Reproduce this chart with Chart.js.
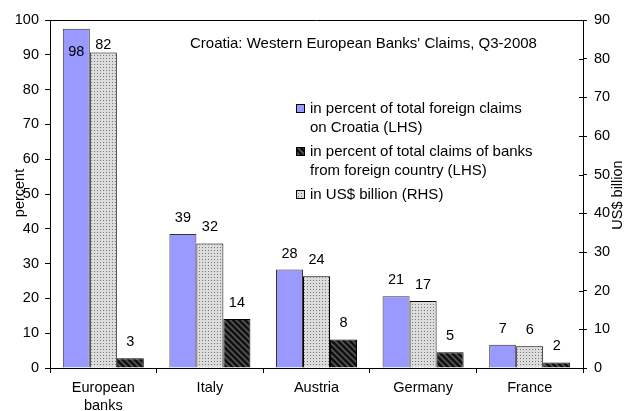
<!DOCTYPE html>
<html>
<head>
<meta charset="utf-8">
<script src="https://cdn.jsdelivr.net/npm/chart.js@4"></script>
<style>
  html, body { margin: 0; padding: 0; background: #fff; }
  #wrap { width: 628px; height: 411px; }
</style>
</head>
<body>
<div id="wrap"><canvas id="chart" width="628" height="411"></canvas></div>
<script>
// Croatia: Western European banks' claims, Q3-2008.

const categories = [['European', 'banks'], 'Italy', 'Austria', 'Germany', 'France'];
const shareOfForeignClaims = [97.5, 38.5, 28.3, 20.6, 6.7];   // percent, LHS
const shareOfBankClaims    = [2.8, 14.1, 8.2, 4.5, 1.6];      // percent, LHS
const claimsUsdBn          = [81.6, 32.2, 23.7, 17.3, 5.6];   // US$ billion, RHS

const legendLabels = [
  ['in percent of total foreign claims', 'on Croatia (LHS)'],
  ['in percent of total claims of banks', 'from foreign country (LHS)'],
  ['in US$ billion (RHS)'],
];

const FONT = '"Liberation Sans", Arial, sans-serif';
const SIZE = 14.5;
Chart.defaults.font.family = FONT;
Chart.defaults.font.size = SIZE;
Chart.defaults.color = '#000';

// fill patterns
function dotPattern() {
  const c = document.createElement('canvas');
  c.width = 3; c.height = 3;
  const g = c.getContext('2d');
  g.fillStyle = '#dcdcdc';
  g.fillRect(0, 0, 3, 3);
  g.fillStyle = '#777';
  g.fillRect(1, 1, 1, 1);
  return g.createPattern(c, 'repeat');
}
function hatchPattern() {
  const n = 6;
  const c = document.createElement('canvas');
  c.width = n; c.height = n;
  const g = c.getContext('2d');
  g.fillStyle = '#111';
  g.fillRect(0, 0, n, n);
  g.strokeStyle = '#555';
  g.lineWidth = 1.6;
  g.beginPath();
  g.moveTo(-1, -1); g.lineTo(n + 1, n + 1);
  g.moveTo(-1, n - 1); g.lineTo(1, n + 1);
  g.moveTo(n - 1, -1); g.lineTo(n + 1, 1);
  g.stroke();
  return g.createPattern(c, 'repeat');
}

const ctx = document.getElementById('chart').getContext('2d');
const dots = dotPattern();
const hatch = hatchPattern();

// label nudges for the tall first group (label offset from bar top, px)
const labelShift = { '0-0': 23, '1-0': -7 };

const barLabels = {
  id: 'barLabels',
  afterDatasetsDraw(chart) {
    const c = chart.ctx;
    c.save();
    c.font = SIZE + 'px ' + FONT;
    c.fillStyle = '#000';
    c.textAlign = 'center';
    c.textBaseline = 'middle';
    chart.data.datasets.forEach((ds, di) => {
      chart.getDatasetMeta(di).data.forEach((bar, i) => {
        const shift = labelShift[di + '-' + i];
        const y = shift !== undefined ? bar.y + shift : bar.y - 16;
        c.fillText(String(Math.round(ds.data[i])), bar.x, y);
      });
    });
    c.restore();
  }
};

// title, legend, axis titles, frame
const decorations = {
  id: 'decorations',
  afterDraw(chart) {
    const c = chart.ctx;
    const a = chart.chartArea;
    c.save();
    c.strokeStyle = '#000';
    c.lineWidth = 1;
    c.beginPath();
    c.moveTo(a.left, a.top + 0.5);
    c.lineTo(a.right, a.top + 0.5);
    c.stroke();

    // right axis ticks cross the axis line
    const y1 = chart.scales.y1;
    y1.ticks.forEach((t, i) => {
      const py = Math.round(y1.getPixelForTick(i)) + 0.5;
      c.beginPath();
      c.moveTo(a.right - 4, py);
      c.lineTo(a.right, py);
      c.stroke();
    });

    c.font = '15px ' + FONT;
    c.fillStyle = '#000';
    c.textBaseline = 'middle';
    c.textAlign = 'left';
    c.fillText("Croatia: Western European Banks' Claims, Q3-2008", 190, 44);

    // legend, order: foreign claims, bank claims, US$ billion
    const order = [0, 2, 1];
    let y = 109;
    order.forEach((di, k) => {
      const ds = chart.data.datasets[di];
      c.fillStyle = ds.backgroundColor;
      c.fillRect(296, y - 5, 9, 9);
      c.strokeStyle = '#000';
      c.strokeRect(296.5, y - 4.5, 8, 8);
      c.fillStyle = '#000';
      legendLabels[k].forEach((line, j) => c.fillText(line, 310, y + j * 19));
      y += legendLabels[k].length * 19 + 5;
    });

    c.font = SIZE + 'px ' + FONT;
    c.textAlign = 'center';
    c.save();
    c.translate(20, 193);
    c.rotate(-Math.PI / 2);
    c.fillText('percent', 0, 0);
    c.restore();
    c.save();
    c.translate(618, 195);
    c.rotate(-Math.PI / 2);
    c.fillText('US$ billion', 0, 0);
    c.restore();
    c.restore();
  }
};

new Chart(ctx, {
  type: 'bar',
  data: {
    labels: categories,
    datasets: [
      { data: shareOfForeignClaims, backgroundColor: '#9999ff', borderColor: '#333', borderWidth: 1, yAxisID: 'y' },
      { data: claimsUsdBn, backgroundColor: dots, borderColor: '#000', borderWidth: 1, yAxisID: 'y1' },
      { data: shareOfBankClaims, backgroundColor: hatch, borderColor: '#000', borderWidth: 1, yAxisID: 'y' },
    ],
  },
  options: {
    responsive: false,
    animation: false,
    layout: { padding: { top: 20, left: 0, right: 0, bottom: 0 } },
    datasets: { bar: { barPercentage: 1, categoryPercentage: 0.76 } },
    plugins: { legend: { display: false }, tooltip: { enabled: false } },
    scales: {
      x: {
        grid: { offset: true, drawOnChartArea: false, color: '#000', tickLength: 5 },
        border: { color: '#000', width: 1 },
        ticks: { padding: 6, maxRotation: 0, color: '#000', font: { lineHeight: 1.24 } },
        afterFit(s) { s.height = 43; },
      },
      y: {
        position: 'left',
        min: 0, max: 100,
        grid: { drawOnChartArea: false, color: '#000', tickLength: 5 },
        border: { color: '#000', width: 1 },
        ticks: { stepSize: 10, padding: 6, color: '#000' },
        afterFit(s) { s.width = 50; },
      },
      y1: {
        position: 'right',
        min: 0, max: 90,
        grid: { drawOnChartArea: false, color: '#000', tickLength: 4 },
        border: { color: '#000', width: 1 },
        ticks: { stepSize: 10, padding: 7, color: '#000' },
        afterFit(s) { s.width = 45; },
      },
    },
  },
  plugins: [barLabels, decorations],
});
</script>
</body>
</html>
